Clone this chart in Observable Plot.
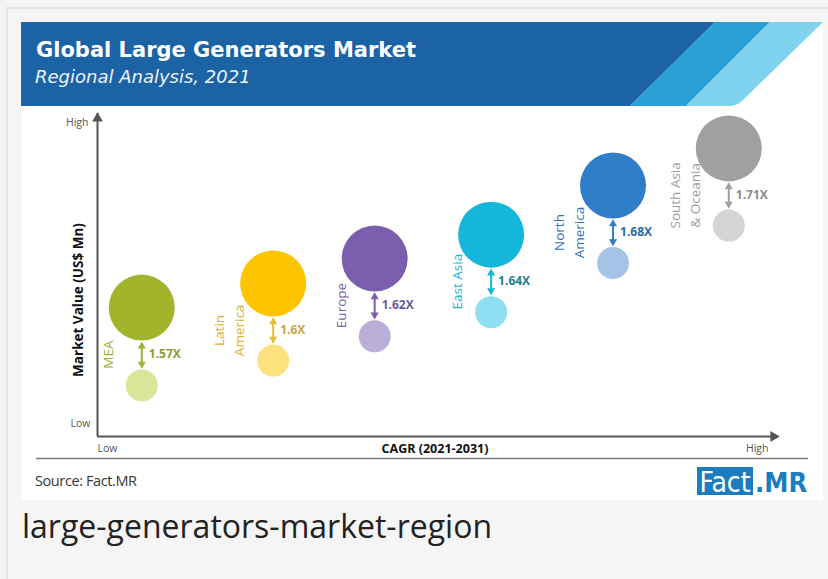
<!DOCTYPE html>
<html>
<head>
<meta charset="utf-8">
<script src="https://cdn.jsdelivr.net/npm/d3@7"></script>
<script src="https://cdn.jsdelivr.net/npm/@observablehq/plot@0.6"></script>
<style>
  html, body { margin: 0; padding: 0; }
  body { width: 828px; height: 579px; background: #f4f4f4; position: relative; overflow: hidden; font-family: "Open Sans", sans-serif; }
  #deco { position: absolute; left: 0; top: 0; }
  #chart { position: absolute; left: 0; top: 105px; }
</style>
</head>
<body>
<svg id="deco" width="828" height="579" xmlns="http://www.w3.org/2000/svg">
  <rect x="7" y="8" width="830" height="580" fill="#f5f5f5" stroke="#e3e3e3" stroke-width="2"/>
  <rect x="21" y="22" width="802" height="478" fill="#ffffff"/>
  <g transform="translate(21,22)">
    <path d="M0,0 L694,0 L609,84 L0,84 Z" fill="#1b63a4"/>
    <path d="M694,0 L749,0 L665,84 L609,84 Z" fill="#2aa0d7"/>
    <path d="M749,0 L802,0 L722,78 Q716,84 708,84 L665,84 Z" fill="#80d3ef"/>
    <text x="15" y="35" fill="#ffffff" font-family="'DejaVu Sans', sans-serif" font-weight="700" font-size="21" id="title">Global Large Generators Market</text>
    <text x="14" y="61" fill="#eef4fb" font-family="'DejaVu Sans', sans-serif" font-style="italic" font-size="18" id="subtitle">Regional Analysis, 2021</text>
  </g>
  <line x1="36" y1="458.5" x2="808" y2="458.5" stroke="#7a7a7a" stroke-width="1.5"/>
  <text x="35" y="486" fill="#333" font-family="'Open Sans', sans-serif" font-size="14.5" letter-spacing="-0.4">Source: Fact.MR</text>
  <rect x="697" y="467" width="56" height="28" fill="#1a7dbf"/>
  <text x="725" y="492" fill="#ffffff" text-anchor="middle" font-family="'Liberation Sans Narrow', 'DejaVu Sans Condensed', sans-serif" font-size="28">Fact</text>
  <text x="755" y="492" fill="#1a7dbf" font-family="'Liberation Sans Narrow', 'DejaVu Sans Condensed', sans-serif" font-weight="700" font-size="27">.MR</text>
  <text x="22" y="538" fill="#222" font-family="'Open Sans', sans-serif" font-size="32">large-generators-market-region</text>
</svg>
<div id="chart"></div>
<script>
// ---- data ----
const regions = ["MEA", "Latin America", "Europe", "East Asia", "North America", "South Asia & Oceania"];
const regionLabels = ["MEA", "Latin\nAmerica", "Europe", "East Asia", "North\nAmerica", "South Asia\n& Oceania"];
// relative CAGR position along the x axis (0 = Low, 100 = High)
const cagrPosition = [6.5, 25.8, 40.7, 57.8, 75.7, 92.7];
// relative market value (0 = Low, 100 = High)
const marketValue2021 = [15.8, 23.5, 31.0, 38.5, 53.7, 65.3];
const marketValue2031 = [39.9, 47.4, 55.1, 62.5, 77.7, 89.2];
const growthLabels = ["1.57X", "1.6X", "1.62X", "1.64X", "1.68X", "1.71X"];
const axisLevels = ["Low", "High"];
const xTitle = "CAGR (2021-2031)";
const yTitle = "Market Value (US$ Mn)";

// ---- colours ----
const darkColors = ["#a2b42b", "#fdc500", "#7b5ead", "#13b7d9", "#2f7ec7", "#a0a0a0"];
const lightColors = ["#d9e598", "#fde17f", "#bbafd7", "#8fdef1", "#a5c3e7", "#d5d5d5"];
const arrowColors = ["#a2b42b", "#e3bd35", "#7b5ead", "#13b7d9", "#2f7ec7", "#a0a0a0"];
const labelColors = ["#9db12c", "#dcb12e", "#7a62ad", "#1cb3d2", "#2f6fb2", "#9c9c9c"];
const growthColors = ["#8c9d2e", "#c9a63c", "#6a5b9e", "#1b7e93", "#2e68a5", "#8a8a8a"];

const data = regions.map((region, i) => ({
  region,
  label: regionLabels[i],
  cagr: cagrPosition[i],
  v2021: marketValue2021[i],
  v2031: marketValue2031[i],
  growth: growthLabels[i],
  dark: darkColors[i],
  light: lightColors[i],
  arrow: arrowColors[i],
  labelColor: labelColors[i],
  growthColor: growthColors[i]
}));

const axisColor = "#555";

const chart = Plot.plot({
  width: 828,
  height: 360,
  marginLeft: 97,
  marginRight: 50,
  marginTop: 8,
  marginBottom: 29,
  x: {domain: [0, 100], axis: null},
  y: {domain: [0, 100], axis: null},
  style: {background: "transparent", fontFamily: "'Open Sans', sans-serif", overflow: "visible"},
  marks: [
    // axes with arrowheads
    Plot.ruleX([0], {stroke: axisColor, strokeWidth: 2}),
    Plot.ruleY([0], {stroke: axisColor, strokeWidth: 2}),
    Plot.dot([0], {frameAnchor: "top-left", symbol: "triangle", r: 4, fill: axisColor, stroke: null, dy: 5}),
    Plot.dot([0], {frameAnchor: "bottom-right", symbol: "triangle", rotate: 90, r: 4, fill: axisColor, stroke: null, dx: -5}),
    // axis level labels
    Plot.text([axisLevels[1]], {text: d => d, frameAnchor: "top-left", textAnchor: "end", lineAnchor: "middle", dx: -9, dy: 9, fontSize: 10.5, fill: "#555"}),
    Plot.text([axisLevels[0]], {text: d => d, frameAnchor: "bottom-left", textAnchor: "end", lineAnchor: "middle", dx: -7, dy: -13, fontSize: 10.5, fill: "#555"}),
    Plot.text([axisLevels[0]], {text: d => d, frameAnchor: "bottom-left", textAnchor: "start", lineAnchor: "middle", dx: 0, dy: 12, fontSize: 10.5, fill: "#555"}),
    Plot.text([axisLevels[1]], {text: d => d, frameAnchor: "bottom-right", textAnchor: "end", lineAnchor: "middle", dx: -10, dy: 12, fontSize: 10.5, fill: "#555"}),
    // axis titles
    Plot.text([xTitle], {text: d => d, frameAnchor: "bottom", textAnchor: "middle", lineAnchor: "middle", dx: -3, dy: 12, fontSize: 12.5, fontWeight: "bold", fill: "#111"}),
    Plot.text([yTitle], {text: d => d, frameAnchor: "left", textAnchor: "middle", lineAnchor: "middle", rotate: -90, dx: -19, dy: 25, fontSize: 13.5, fontWeight: "bold", fill: "#111"}),
    // growth arrows
    Plot.ruleX(data, {x: "cagr", y1: "v2031", y2: "v2021", stroke: "arrow", strokeWidth: 2, insetTop: 38, insetBottom: 21}),
    Plot.dot(data, {x: "cagr", y: "v2031", symbol: "triangle", r: 3, fill: "arrow", stroke: null, dy: 38.5}),
    Plot.dot(data, {x: "cagr", y: "v2021", symbol: "triangle", rotate: 180, r: 3, fill: "arrow", stroke: null, dy: -21.5}),
    // bubbles
    Plot.dot(data, {x: "cagr", y: "v2021", r: 16, fill: "light", stroke: null}),
    Plot.dot(data, {x: "cagr", y: "v2031", r: 33, fill: "dark", stroke: null}),
    // labels
    Plot.text(data, {x: "cagr", y: "v2031", text: "growth", textAnchor: "start", lineAnchor: "middle", dx: 7, dy: 47, fontSize: 12, fontWeight: "bold", fill: "growthColor"}),
    Plot.text(data, {x: "cagr", y: "v2031", text: "label", rotate: -90, textAnchor: "middle", lineAnchor: "bottom", lineHeight: 1.5, dx: -29, dy: 47, fontSize: 13.5, fill: "labelColor"})
  ]
});
document.getElementById("chart").appendChild(chart);
</script>
</body>
</html>
